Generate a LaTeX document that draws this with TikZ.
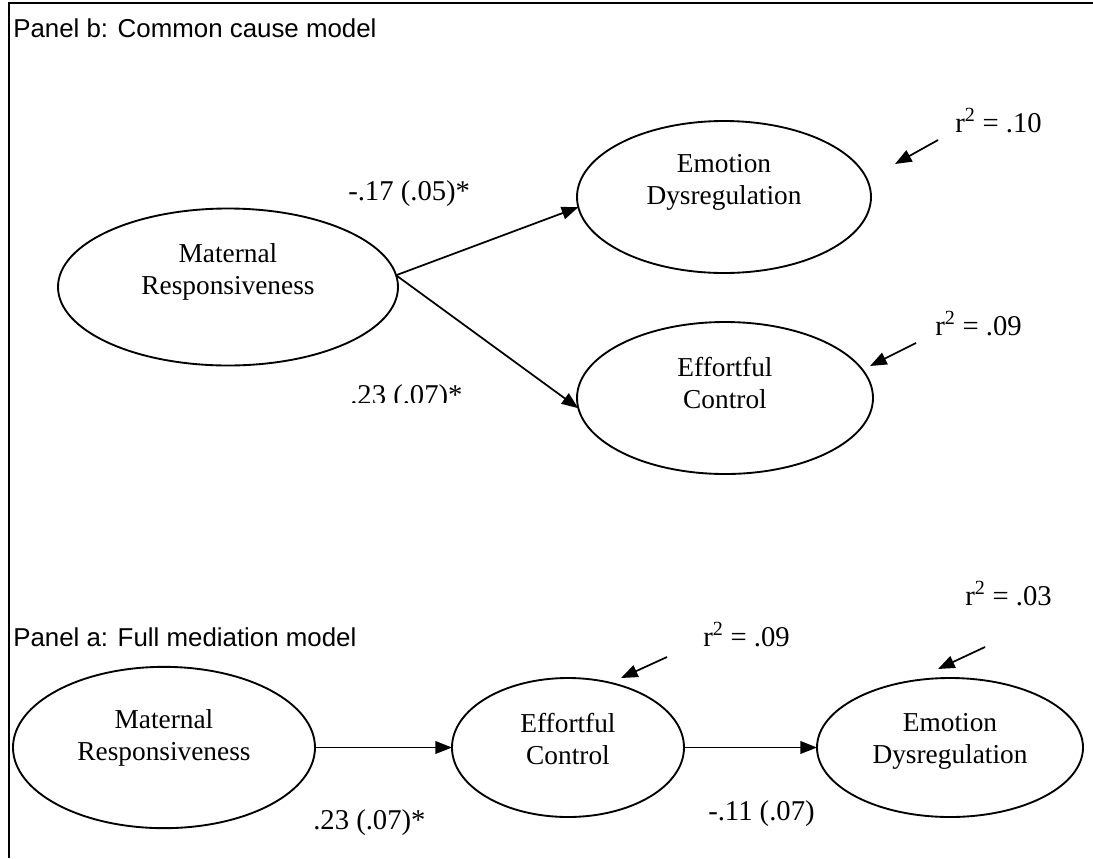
\documentclass[tikz,border=0pt]{standalone}
\usepackage{fontspec}
\setmainfont{Liberation Serif}
\newfontfamily\panelfont{Liberation Sans}
\usetikzlibrary{shapes.geometric,arrows.meta}

\begin{document}
\begin{tikzpicture}[x=0.75pt,y=-0.75pt,
  latent/.style={draw,ellipse,line width=1.4pt,inner sep=0pt,outer sep=0pt},
  vname/.style={align=center,font=\fontsize{20.5}{24}\selectfont},
  coef/.style={anchor=base west,inner sep=0pt,font=\fontsize{21.5}{25}\selectfont},
  title/.style={anchor=base west,inner sep=0pt,font=\panelfont\fontsize{19.4}{23}\selectfont},
  path/.style={-{Triangle[length=12.5pt,width=9.5pt]},line width=1.3pt}]

\useasboundingbox (0,0) rectangle (1093,858);
\draw[line width=2pt] (9,858) -- (9,3) -- (1093,3);

% panel b
\node[title] (tb) at (13,37) {Panel b: Common cause model};

\node[latent,minimum width=255pt,minimum height=117.75pt] (mrB) at (228,287) {};
\node[latent,minimum width=220.5pt,minimum height=114pt] (edB) at (724,197) {};
\node[latent,minimum width=222pt,minimum height=114pt] (ecB) at (725,398) {};

\node[vname] (mrBt) at (228,272) {Maternal\\Responsiveness};
\node[vname] (edBt) at (724,182) {Emotion\\Dysregulation};
\node[vname] (ecBt) at (725,383) {Effortful\\Control};

\draw[path] (mrB.4) -- (edB.184);
\draw[path] (mrB.4) -- (ecB.184);

\node[coef] (b1) at (348,200) {-.17 (.05)*};
\begin{scope}
\clip (340,370) rectangle (480,402);
\node[coef] (b2) at (350,404) {.23 (.07)*};
\end{scope}

\node[coef] (rb1) at (955,132) {r\textsuperscript{2} = .10};
\node[coef] (rb2) at (935,335) {r\textsuperscript{2} = .09};
\coordinate (rb1s) at (938,140);
\coordinate (rb1e) at (895,164);
\coordinate (rb2s) at (916,343);
\coordinate (rb2e) at (870,366);
\draw[path] (rb1s) -- (rb1e);
\draw[path] (rb2s) -- (rb2e);

% panel a
\node[title] (ta) at (13,646) {Panel a: Full mediation model};

\node[latent,minimum width=226.5pt,minimum height=121pt] (mrA) at (164,747.5) {};
\node[latent,minimum width=174pt,minimum height=104.25pt] (ecA) at (568,747.5) {};
\node[latent,minimum width=199.5pt,minimum height=104.25pt] (edA) at (950,747.5) {};

\node[vname] (mrAt) at (164,738) {Maternal\\Responsiveness};
\node[vname] (ecAt) at (568,739) {Effortful\\Control};
\node[vname] (edAt) at (950,741) {Emotion\\Dysregulation};

\draw[path] (mrA.east) -- (ecA.west);
\draw[path] (ecA.east) -- (edA.west);

\node[coef] (a1) at (313,829) {.23 (.07)*};
\node[coef] (a2) at (708,820) {-.11 (.07)};

\node[coef] (ra1) at (703,646) {r\textsuperscript{2} = .09};
\node[coef] (ra2) at (965,605) {r\textsuperscript{2} = .03};
\coordinate (ra1s) at (667,657);
\coordinate (ra1e) at (621,678);
\coordinate (ra2s) at (985,647);
\coordinate (ra2e) at (938,669);
\draw[path] (ra1s) -- (ra1e);
\draw[path] (ra2s) -- (ra2e);

\end{tikzpicture}
\end{document}
